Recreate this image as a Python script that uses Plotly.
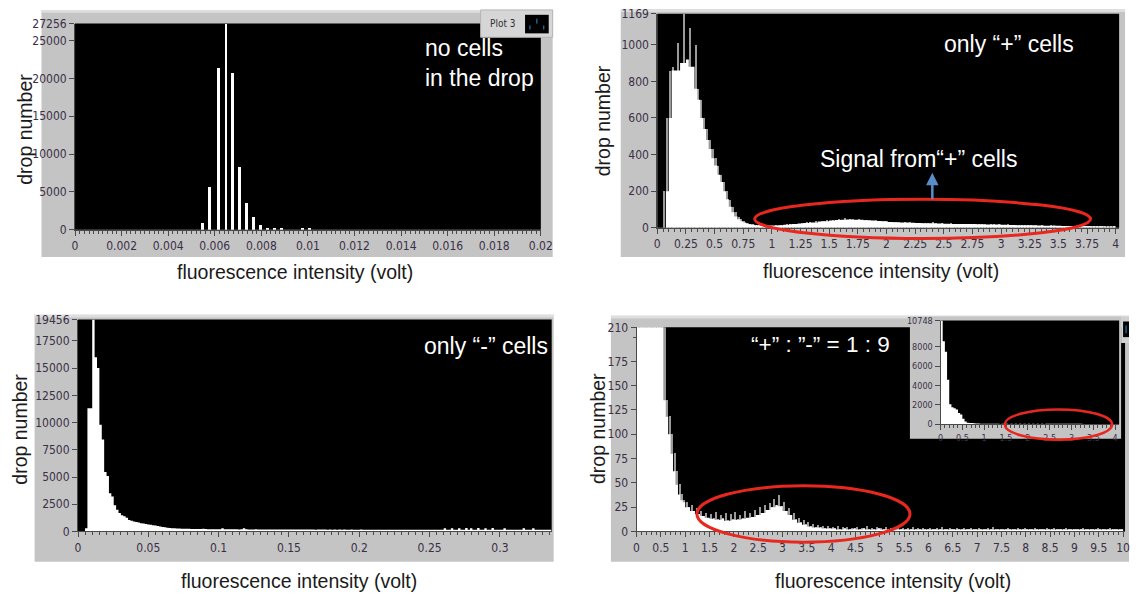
import numpy as np
import plotly.graph_objects as go

W, H = 1141, 600

# ---------------------------------------------------------------- data ----
# Panel 1: no cells in the drop (narrow histogram bins, volts)
p1_centers = [0.00548, 0.00578, 0.00617, 0.00648, 0.00677, 0.00707, 0.00738,
              0.00768, 0.00797, 0.00826, 0.00856, 0.00887, 0.00978, 0.01008]
p1_counts = [950, 5750, 21500, 27256, 20800, 8350, 3600,
             1750, 650, 250, 250, 250, 250, 250]
p1_xticks = [0, 0.002, 0.004, 0.006, 0.008, 0.01, 0.012, 0.014, 0.016, 0.018, 0.02]
p1_xticklabels = ["0", "0.002", "0.004", "0.006", "0.008", "0.01", "0.012",
                  "0.014", "0.016", "0.018", "0.02"]
p1_yticks = [0, 5000, 10000, 15000, 20000, 25000, 27256]

# Panel 2: only "+" cells, 0.025 V bins from 0 to 4 V
p2_bin_width = 0.025
p2_counts = [
    0, 0, 200, 600, 860, 880, 860, 1010, 900, 1169,
    920, 1090, 880, 1000, 760, 700, 600, 540, 480, 430,
    380, 340, 290, 250, 200, 155, 115, 85, 62, 46,
    36, 29, 23, 19, 16, 14, 13, 12, 12, 12,
    12, 14, 13, 17, 16, 19, 21, 20, 24, 23,
    27, 26, 30, 33, 29, 35, 34, 38, 36, 41,
    40, 44, 42, 47, 43, 52, 45, 46, 49, 44,
    48, 43, 45, 41, 44, 39, 42, 37, 38, 35,
    36, 32, 34, 30, 33, 29, 31, 28, 30, 27,
    29, 26, 28, 25, 27, 24, 30, 25, 23, 26,
    24, 22, 25, 21, 23, 22, 20, 24, 21, 22,
    20, 23, 19, 21, 20, 18, 21, 19, 17, 20,
    18, 16, 19, 15, 17, 16, 14, 17, 15, 14,
    15, 13, 14, 12, 15, 13, 11, 14, 12, 13,
    11, 12, 10, 13, 11, 10, 12, 9, 11, 10,
    9, 10, 8, 11, 9, 8, 10, 7, 9, 8,
]
p2_xticks = [0, 0.25, 0.5, 0.75, 1, 1.25, 1.5, 1.75, 2, 2.25, 2.5, 2.75,
             3, 3.25, 3.5, 3.75, 4]
p2_xticklabels = ["0", "0.25", "0.5", "0.75", "1", "1.25", "1.5", "1.75", "2",
                  "2.25", "2.5", "2.75", "3", "3.25", "3.5", "3.75", "4"]
p2_yticks = [0, 200, 400, 600, 800, 1000, 1169]

# Panel 3: only "-" cells, 0.0017 V bins starting at 0.005 V
p3_start = 0.005
p3_bin_width = 0.0017
p3_counts = [
    300, 11300, 11300, 19456, 16000, 15000, 9800, 8450, 5450, 5100,
    3500, 3200, 2400, 2000, 1700, 1500, 1400, 1250, 1050, 980,
    920, 880, 820, 760, 720, 680, 640, 610, 580, 540,
    500, 460, 420, 380, 350, 320, 300, 290, 280, 270,
    260, 250, 245, 240, 235, 230, 225, 220, 215, 240,
    215, 210, 210, 205, 210, 200, 200, 300, 205, 200,
    200, 195, 205, 195, 190, 195, 290, 195, 190, 190,
    190, 195, 190, 185, 190, 185, 180, 190, 185, 180,
    180, 185, 180, 175, 180, 175, 180, 175, 170, 175,
    175, 170, 175, 170, 175, 170, 165, 170, 175, 170,
    170, 165, 170, 165, 170, 165, 170, 165, 170, 165,
    165, 170, 165, 160, 165, 170, 165, 160, 165, 160,
    165, 160, 165, 160, 165, 160, 160, 165, 160, 165,
    160, 165, 160, 155, 160, 165, 160, 155, 160, 160,
    155, 160, 155, 160, 155, 160, 155, 160, 155, 160,
    290, 155, 160, 300, 155, 160, 285, 155, 160, 310,
    155, 300, 160, 155, 320, 160, 155, 300, 160, 155,
    310, 160, 155, 160, 155, 300, 160, 155, 160, 155,
    155, 160, 155, 300, 160, 155, 160, 290, 155, 160,
    155, 160, 155, 160, 155,
]
p3_xticks = [0, 0.05, 0.1, 0.15, 0.2, 0.25, 0.3]
p3_xticklabels = ["0", "0.05", "0.1", "0.15", "0.2", "0.25", "0.3"]
p3_yticks = [0, 2500, 5000, 7500, 10000, 12500, 15000, 17500, 19456]

# Panel 4: "+" : "-" = 1 : 9 mixture, 0.05 V bins from 0 to 10 V
p4_bin_width = 0.05
p4_counts = [
    10748, 8600, 7500, 4600, 2050, 1750, 1650, 1500, 1150, 1000,
    560, 260, 135, 118, 100, 80, 62, 48, 38, 32,
    30, 25, 27, 21, 24, 18, 21, 16, 19, 14,
    18, 13, 20, 12, 17, 13, 19, 11, 18, 12,
    20, 12, 17, 13, 21, 14, 19, 15, 22, 17,
    25, 19, 27, 22, 29, 25, 33, 27, 37, 26,
    30, 21, 24, 17, 19, 12, 14, 9, 11, 7,
    9, 5, 7, 4, 6, 4, 5, 3, 5, 3,
    4, 3, 5, 2, 4, 3, 4, 2, 3, 3,
    4, 2, 3, 3, 5, 2, 3, 2, 4, 3,
    3, 2, 4, 2, 3, 3, 2, 4, 2, 3,
    2, 3, 2, 4, 2, 3, 2, 3, 2, 2,
    3, 2, 2, 3, 2, 4, 2, 2, 3, 2,
    2, 3, 2, 2, 3, 2, 2, 3, 2, 2,
    3, 2, 2, 2, 3, 2, 4, 2, 2, 2,
    2, 2, 3, 2, 2, 2, 3, 2, 2, 3,
    2, 2, 2, 3, 2, 2, 2, 2, 3, 2,
    2, 3, 2, 2, 2, 2, 3, 2, 2, 2,
    2, 2, 2, 3, 2, 2, 2, 2, 2, 3,
    2, 2, 2, 2, 3, 2, 2, 2, 2, 2,
]
p4_xticks = [0, 0.5, 1, 1.5, 2, 2.5, 3, 3.5, 4, 4.5, 5, 5.5, 6, 6.5, 7,
             7.5, 8, 8.5, 9, 9.5, 10]
p4_xticklabels = ["0", "0.5", "1", "1.5", "2", "2.5", "3", "3.5", "4", "4.5",
                  "5", "5.5", "6", "6.5", "7", "7.5", "8", "8.5", "9", "9.5", "10"]
p4_yticks = [0, 25, 50, 75, 100, 125, 150, 175, 210]
inset_xticks = [0, 0.5, 1, 1.5, 2, 2.5, 3, 3.5, 4]
inset_xticklabels = ["0", "0.5", "1", "1.5", "2", "2.5", "3", "3.5", "4"]
inset_yticks = [0, 2000, 4000, 6000, 8000, 10748]

# ------------------------------------------------------------- geometry ----
# plot areas (left, top, right, bottom) in pixels and their value ranges
BOX = {
    "p1": (73, 17, 545, 228),
    "p2": (663, 7, 1131, 226),
    "p3": (76, 320, 556, 537),
    "p4": (642, 328, 1137, 537),
    "in": (950, 321, 1131, 427),
}
XR = {"p1": [0, 0.02], "p2": [0, 4.03], "p3": [0, 0.3368],
      "p4": [0, 10.04], "in": [0, 4.09]}
YR = {"p1": [0, 27256], "p2": [0, 1169], "p3": [0, 19456],
      "p4": [0, 210], "in": [0, 10748]}
FRAME = {
    "p1": (39, 3, 557, 256),
    "p2": (626, 2, 1137, 256),
    "p3": (32, 315, 558, 568),
    "p4": (616, 316, 1141, 568),
    "in": (919, 317, 1133, 442),
}

TICK_FONT = "Liberation Sans Narrow, DejaVu Sans Condensed, Arial Narrow, sans-serif"
TEXT_FONT = "Liberation Sans, Arial, Helvetica, sans-serif"
TICK_COLOR = "#3a3046"
LINE_COLOR = "#4a4a4a"
FRAME_GREY = "#c4c4c4"
SPIKE_GREY = "#9a9a9a"
RED = "#e8281e"


def px(x):
    return x / W


def py(y):
    return 1 - y / H


def to_paper(panel, xv, yv):
    l, t, r, b = BOX[panel]
    x0, x1 = XR[panel]
    y0, y1 = YR[panel]
    xp = l + (xv - x0) / (x1 - x0) * (r - l)
    yp = b - (yv - y0) / (y1 - y0) * (b - t)
    return px(xp), py(yp)


def rect(box, color, layer="below", line=None):
    x0, y0, x1, y1 = box
    return dict(type="rect", xref="paper", yref="paper",
                x0=px(x0), x1=px(x1), y0=py(y1), y1=py(y0),
                fillcolor=color, line=line or dict(width=0), layer=layer)


def lower_envelope(counts):
    c = np.asarray(counts, dtype=float)
    left = np.r_[c[0], c[:-1]]
    right = np.r_[c[1:], c[-1]]
    return np.minimum(np.minimum(left, c), right)


def step_fill(edges, values, xa, ya):
    vals = list(values)
    return go.Scatter(x=list(edges), y=vals + [vals[-1]], mode="lines",
                      line=dict(shape="hv", width=0, color="white"),
                      fill="tozeroy", fillcolor="white",
                      xaxis=xa, yaxis=ya, hoverinfo="skip", showlegend=False)


def spikes(centers, values, width, xa, ya):
    return go.Bar(x=list(centers), y=list(values), width=width,
                  marker=dict(color=SPIKE_GREY, line=dict(width=0)),
                  xaxis=xa, yaxis=ya, hoverinfo="skip", showlegend=False)


# ---------------------------------------------------------------- traces ---
fig = go.Figure()

# panel 1
fig.add_trace(go.Bar(x=p1_centers, y=p1_counts, width=0.00012,
                     marker=dict(color="white", line=dict(width=0)),
                     xaxis="x", yaxis="y", showlegend=False))

# panel 2
p2_edges = np.arange(len(p2_counts) + 1) * p2_bin_width
p2_mid = (p2_edges[:-1] + p2_edges[1:]) / 2
fig.add_trace(spikes(p2_mid, p2_counts, p2_bin_width * 0.45, "x2", "y2"))
fig.add_trace(step_fill(p2_edges, lower_envelope(p2_counts), "x2", "y2"))

# panel 3
p3_edges = p3_start + np.arange(len(p3_counts) + 1) * p3_bin_width
fig.add_trace(step_fill(p3_edges, p3_counts, "x3", "y3"))

# panel 4 and its inset (same histogram, wider count scale)
p4_edges = np.arange(len(p4_counts) + 1) * p4_bin_width
p4_mid = (p4_edges[:-1] + p4_edges[1:]) / 2
fig.add_trace(spikes(p4_mid, p4_counts, p4_bin_width * 0.45, "x4", "y4"))
fig.add_trace(step_fill(p4_edges, lower_envelope(p4_counts), "x4", "y4"))
fig.add_trace(step_fill(p4_edges, p4_counts, "x5", "y5"))

# ------------------------------------------------------------------ axes ---


def xaxis(panel, anchor, ticks, labels, minor_dtick, size=12):
    l, t, r, b = BOX[panel]
    return dict(domain=[px(l), px(r)], range=XR[panel], anchor=anchor,
                tickmode="array", tickvals=ticks, ticktext=labels,
                ticks="outside", ticklen=5, tickcolor=LINE_COLOR,
                showline=True, linecolor=LINE_COLOR, linewidth=1,
                showgrid=False, zeroline=False, fixedrange=True,
                tickfont=dict(family=TICK_FONT, size=size, color=TICK_COLOR),
                minor=dict(ticks="outside", ticklen=3, tickcolor=LINE_COLOR,
                           tickmode="linear", tick0=0, dtick=minor_dtick,
                           showgrid=False))


def yaxis(panel, anchor, ticks, size=12, minor=None):
    l, t, r, b = BOX[panel]
    ax = dict(domain=[py(b), py(t)], range=YR[panel], anchor=anchor,
              tickmode="array", tickvals=ticks, ticktext=[str(v) for v in ticks],
              ticks="outside", ticklen=5, tickcolor=LINE_COLOR,
              showline=True, linecolor=LINE_COLOR, linewidth=1,
              showgrid=False, zeroline=False, fixedrange=True,
              tickfont=dict(family=TICK_FONT, size=size, color=TICK_COLOR))
    if minor:
        ax["minor"] = minor
    return ax


fig.update_layout(
    xaxis=xaxis("p1", "y", p1_xticks, p1_xticklabels, 0.0002),
    yaxis=yaxis("p1", "x", p1_yticks),
    xaxis2=xaxis("p2", "y2", p2_xticks, p2_xticklabels, 0.05),
    yaxis2=yaxis("p2", "x2", p2_yticks),
    xaxis3=xaxis("p3", "y3", p3_xticks, p3_xticklabels, 0.005),
    yaxis3=yaxis("p3", "x3", p3_yticks),
    xaxis4=xaxis("p4", "y4", p4_xticks, p4_xticklabels, 0.1),
    yaxis4=yaxis("p4", "x4", p4_yticks,
                 minor=dict(tickmode="array", tickvals=[200], ticks="outside",
                            ticklen=3, tickcolor=LINE_COLOR, showgrid=False)),
    xaxis5=xaxis("in", "y5", inset_xticks, inset_xticklabels, 0.1, size=9),
    yaxis5=yaxis("in", "x5", inset_yticks, size=9),
)

# ---------------------------------------------------------------- frames ---
shapes = []
for key in ["p1", "p2", "p3", "p4"]:
    fx0, fy0, fx1, fy1 = FRAME[key]
    shapes.append(rect(FRAME[key], FRAME_GREY))
    shapes.append(rect((fx0, fy0, fx1, fy0 + 3), "#dedede"))
    shapes.append(rect(BOX[key], "black"))
# inset frame sits over the upper right of panel 4
shapes.append(rect(FRAME["in"], FRAME_GREY))
shapes.append(rect(BOX["in"], "black"))
# partial legend box on the inset's right edge
shapes.append(rect((1133, 317, 1141, 344), "#d0d0d0"))
shapes.append(rect((1135, 322, 1141, 338), "black"))
shapes.append(dict(type="line", xref="paper", yref="paper",
                   x0=px(1138), x1=px(1138), y0=py(334), y1=py(326),
                   line=dict(color="#2a8fd6", width=1), layer="below"))

# "Plot 3" legend in panel 1
shapes.append(rect((484, 3, 557, 31), "#d6d6d6", layer="above",
                   line=dict(color="#b4b4b4", width=1)))
shapes.append(rect((529, 8, 553, 27), "black", layer="above"))
for lx, ly0, ly1 in [(534, 19, 23), (541, 12, 17), (548, 19, 23)]:
    shapes.append(dict(type="line", xref="paper", yref="paper",
                       x0=px(lx), x1=px(lx), y0=py(ly1), y1=py(ly0),
                       line=dict(color="#2a8fd6", width=1), layer="above"))

# red ellipses around the "+" cell signal, given in each panel's values
for panel, xa, xb, ya, yb, w in [("p2", 0.85, 3.78, -59, 155, 3),
                                 ("p4", 1.24, 5.62, -11, 47, 3),
                                 ("in", 1.47, 3.93, -1620, 1520, 2.5)]:
    x0, y0 = to_paper(panel, xa, ya)
    x1, y1 = to_paper(panel, xb, yb)
    shapes.append(dict(type="circle", xref="paper", yref="paper",
                       x0=x0, x1=x1, y0=y0, y1=y1,
                       line=dict(color=RED, width=w), layer="above"))

fig.update_layout(shapes=shapes)

# ----------------------------------------------------------- annotations ---
ann = []


def label(text, x, y, size=19.5, angle=0, color="#1a1a1a", xanchor="center",
          family=TEXT_FONT, align="center"):
    ann.append(dict(text=text, xref="paper", yref="paper", x=px(x), y=py(y),
                    xanchor=xanchor, yanchor="middle", showarrow=False,
                    textangle=angle, align=align,
                    font=dict(family=family, size=size, color=color)))


# axis titles
for cx, cy in [(296, 271), (890, 270), (300, 588), (902, 588)]:
    label("fluorescence intensity (volt)", cx, cy)
for cx, cy in [(22, 125), (608, 117), (17, 432), (603, 432)]:
    label("drop number", cx, cy, angle=-90)

# in-plot notes
label("no cells<br>in the drop", 426, 57, size=23, color="white",
      xanchor="left", align="left")
label("only “+” cells", 952, 38, size=23, color="white", xanchor="left")
label("Signal from“+” cells", 826, 156, size=23, color="white", xanchor="left")
label("only “-” cells", 425, 347, size=23, color="white", xanchor="left")
label("“+” : ”-” = 1 : 9", 756, 346, size=22.5, color="white", xanchor="left")
label("Plot 3", 507, 17, size=10, color="#303030", family=TICK_FONT)

# arrow pointing from the ellipse to the signal note
hx, hy = to_paper("p2", 2.4, 300)
ann.append(dict(x=hx, y=hy, xref="paper", yref="paper", text="",
                showarrow=True, ax=0, ay=28, arrowhead=2, arrowsize=1,
                arrowwidth=2.5, arrowcolor="#5b8cc8"))

fig.update_layout(
    annotations=ann,
    width=W, height=H,
    margin=dict(l=0, r=0, t=0, b=0),
    paper_bgcolor="white",
    plot_bgcolor="rgba(0,0,0,0)",
    showlegend=False,
    bargap=0,
)

fig.write_html("out.html")
